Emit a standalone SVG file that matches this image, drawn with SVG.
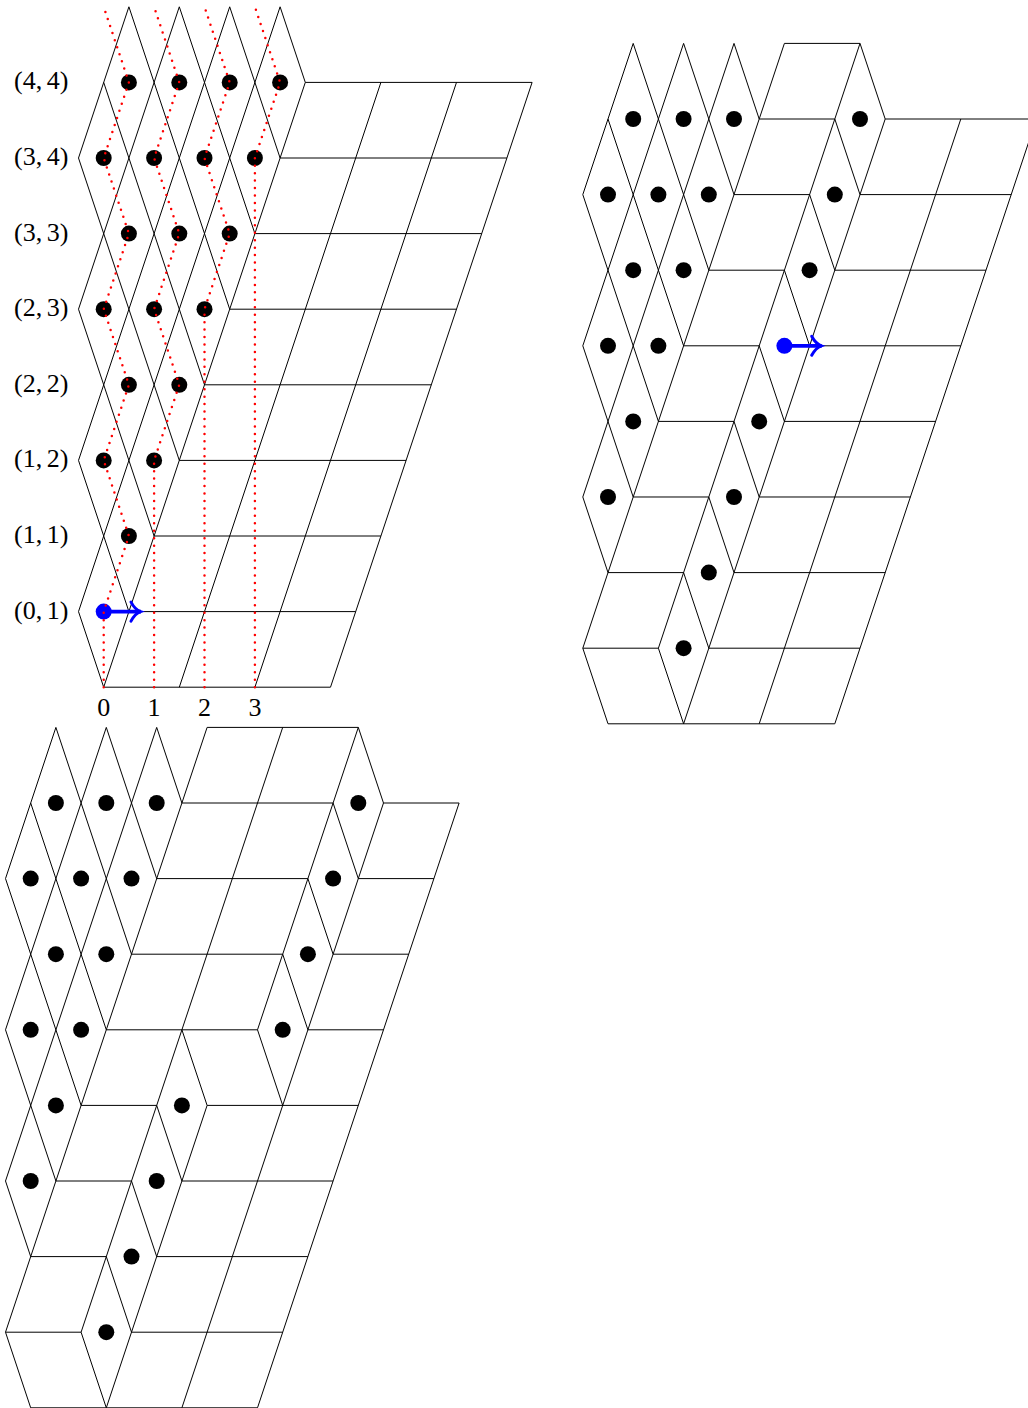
<svg xmlns="http://www.w3.org/2000/svg" width="1028" height="1408" viewBox="0 0 1028 1408">
<style>
.l{fill:none;stroke:#000;stroke-width:1}
#dt{fill:#000}
.red{fill:none;stroke:#f00;stroke-width:2.5;stroke-linecap:round;stroke-dasharray:0 7.45}
.blue{fill:#00f}
.arr{stroke:#00f;stroke-width:3.7;fill:none}
text{font-family:"Liberation Serif","Times New Roman",serif;font-size:26px;fill:#000;word-spacing:-2px}
.c{text-anchor:middle}
</style>
<defs>
<circle id="dt" r="8"/>
<marker id="to" markerUnits="userSpaceOnUse" markerWidth="24" markerHeight="24" refX="11" refY="12" orient="auto" overflow="visible">
<path d="M1 2.5Q5 10 10.5 12Q5 14 1 21.5" fill="none" stroke="#00f" stroke-width="3" stroke-linecap="round"/>
</marker>
</defs>

<g id="tiling-a">
<g transform="translate(103.7 687.2)">
<path class="l" d="M0 0H226.8M25.2-75.6H252M50.4-151.2H277.2M75.6-226.8H302.4M100.8-302.4H327.6M126-378H352.8M151.2-453.6H378M176.4-529.2H403.2M201.6-604.8H428.4
M0 0L201.6-604.8M75.6 0L277.2-604.8M151.2 0L352.8-604.8M226.8 0L428.4-604.8
M-25.2-75.6L176.4-680.4M-25.2-226.8L126-680.4M-25.2-378L75.6-680.4M-25.2-529.2L25.2-680.4
M0 0L-25.2-75.6M25.2-75.6L-25.2-226.8M50.4-151.2L-25.2-378M75.6-226.8L-25.2-529.2M100.8-302.4L0-604.8M126-378L25.2-680.4M151.2-453.6L75.6-680.4M176.4-529.2L126-680.4M201.6-604.8L176.4-680.4"/>
<g id="a-dots">
<use href="#dt" x="25.2" y="-151.2"/>
<use href="#dt" x="0" y="-226.8"/><use href="#dt" x="50.4" y="-226.8"/>
<use href="#dt" x="25.2" y="-302.4"/><use href="#dt" x="75.6" y="-302.4"/>
<use href="#dt" x="0" y="-378"/><use href="#dt" x="50.4" y="-378"/><use href="#dt" x="100.8" y="-378"/>
<use href="#dt" x="25.2" y="-453.6"/><use href="#dt" x="75.6" y="-453.6"/><use href="#dt" x="126" y="-453.6"/>
<use href="#dt" x="0" y="-529.2"/><use href="#dt" x="50.4" y="-529.2"/><use href="#dt" x="100.8" y="-529.2"/><use href="#dt" x="151.2" y="-529.2"/>
<use href="#dt" x="25.2" y="-604.8"/><use href="#dt" x="75.6" y="-604.8"/><use href="#dt" x="126" y="-604.8"/><use href="#dt" x="176.4" y="-604.8"/>
</g>
</g>
<circle class="blue" cx="103.7" cy="611.6" r="8"/>
<line class="arr" x1="103.7" y1="611.6" x2="141" y2="611.6" marker-end="url(#to)"/>
<g id="a-paths">
<path class="red" d="M103.7 687.2V611.6L128.9 536L103.7 460.4L128.9 384.8L103.7 309.2L128.9 233.6L103.7 158L128.9 82.4L103.7 6.8"/>
<path class="red" d="M154.1 687.2V460.4L179.3 384.8L154.1 309.2L179.3 233.6L154.1 158L179.3 82.4L154.1 6.8"/>
<path class="red" d="M204.5 687.2V309.2L229.7 233.6L204.5 158L229.7 82.4L204.5 6.8"/>
<path class="red" d="M254.9 687.2V158L280.1 82.4L254.9 6.8"/>
</g>
<g id="a-labels">
<text x="14" y="89.4">(4, 4)</text>
<text x="14" y="165">(3, 4)</text>
<text x="14" y="240.6">(3, 3)</text>
<text x="14" y="316.2">(2, 3)</text>
<text x="14" y="391.8">(2, 2)</text>
<text x="14" y="467.4">(1, 2)</text>
<text x="14" y="543">(1, 1)</text>
<text x="14" y="618.6">(0, 1)</text>
<text class="c" x="103.7" y="716">0</text>
<text class="c" x="154.1" y="716">1</text>
<text class="c" x="204.5" y="716">2</text>
<text class="c" x="254.9" y="716">3</text>
</g>
</g>

<g id="tiling-b">
<g transform="translate(608 723.8)">
<path class="l" d="M0 0H226.8M-25.2-75.6H50.4M100.8-75.6H252M0-151.2H75.6M126-151.2H277.2M25.2-226.8H100.8M151.2-226.8H302.4M50.4-302.4H126M176.4-302.4H327.6M75.6-378H151.2M201.6-378H352.8M100.8-453.6H176.4M226.8-453.6H378M126-529.2H201.6M252-529.2H403.2M151.2-604.8H226.8M277.2-604.8H428.4M176.4-680.4H252
M-25.2-75.6L176.4-680.4M-25.2-226.8L126-680.4M-25.2-378L75.6-680.4M-25.2-529.2L25.2-680.4
M75.6 0L277.2-604.8M50.4-75.6L252-680.4M151.2 0L352.8-604.8M226.8 0L428.4-604.8
M0 0L-25.2-75.6M0-151.2L-25.2-226.8M25.2-226.8L-25.2-378M50.4-302.4L-25.2-529.2M75.6-378L0-604.8M100.8-453.6L25.2-680.4M126-529.2L75.6-680.4M151.2-604.8L126-680.4
M75.6 0L50.4-75.6M100.8-75.6L75.6-151.2M126-151.2L100.8-226.8M151.2-226.8L126-302.4M176.4-302.4L151.2-378M201.6-378L176.4-453.6M226.8-453.6L201.6-529.2M252-529.2L226.8-604.8M277.2-604.8L252-680.4"/>
<g id="b-dots">
<use href="#dt" x="75.6" y="-75.6"/>
<use href="#dt" x="100.8" y="-151.2"/>
<use href="#dt" x="0" y="-226.8"/><use href="#dt" x="126" y="-226.8"/>
<use href="#dt" x="25.2" y="-302.4"/><use href="#dt" x="151.2" y="-302.4"/>
<use href="#dt" x="0" y="-378"/><use href="#dt" x="50.4" y="-378"/>
<use href="#dt" x="25.2" y="-453.6"/><use href="#dt" x="75.6" y="-453.6"/><use href="#dt" x="201.6" y="-453.6"/>
<use href="#dt" x="0" y="-529.2"/><use href="#dt" x="50.4" y="-529.2"/><use href="#dt" x="100.8" y="-529.2"/><use href="#dt" x="226.8" y="-529.2"/>
<use href="#dt" x="25.2" y="-604.8"/><use href="#dt" x="75.6" y="-604.8"/><use href="#dt" x="126" y="-604.8"/><use href="#dt" x="252" y="-604.8"/>
</g>
</g>
<circle class="blue" cx="784.4" cy="345.8" r="8"/>
<line class="arr" x1="784.4" y1="345.8" x2="821.7" y2="345.8" marker-end="url(#to)"/>
</g>

<g id="tiling-c">
<g transform="translate(30.7 1407.8)">
<path class="l" d="M0 0H226.8M-25.2-75.6H50.4M100.8-75.6H252M0-151.2H75.6M126-151.2H277.2M25.2-226.8H100.8M151.2-226.8H302.4M50.4-302.4H126M176.4-302.4H327.6M75.6-378H226.8M277.2-378H352.8M100.8-453.6H252M302.4-453.6H378M126-529.2H277.2M327.6-529.2H403.2M151.2-604.8H302.4M352.8-604.8H428.4M176.4-680.4H327.6
M-25.2-75.6L176.4-680.4M-25.2-226.8L126-680.4M-25.2-378L75.6-680.4M-25.2-529.2L25.2-680.4
M75.6 0L176.4-302.4M50.4-75.6L252-680.4M151.2 0L352.8-604.8M226.8-378L327.6-680.4M226.8 0L428.4-604.8
M0 0L-25.2-75.6M0-151.2L-25.2-226.8M25.2-226.8L-25.2-378M50.4-302.4L-25.2-529.2M75.6-378L0-604.8M100.8-453.6L25.2-680.4M126-529.2L75.6-680.4M151.2-604.8L126-680.4
M75.6 0L50.4-75.6M100.8-75.6L75.6-151.2M126-151.2L100.8-226.8M151.2-226.8L126-302.4M176.4-302.4L151.2-378
M252-302.4L226.8-378M277.2-378L252-453.6M302.4-453.6L277.2-529.2M327.6-529.2L302.4-604.8M352.8-604.8L327.6-680.4"/>
<g id="c-dots">
<use href="#dt" x="75.6" y="-75.6"/>
<use href="#dt" x="100.8" y="-151.2"/>
<use href="#dt" x="0" y="-226.8"/><use href="#dt" x="126" y="-226.8"/>
<use href="#dt" x="25.2" y="-302.4"/><use href="#dt" x="151.2" y="-302.4"/>
<use href="#dt" x="0" y="-378"/><use href="#dt" x="50.4" y="-378"/><use href="#dt" x="252" y="-378"/>
<use href="#dt" x="25.2" y="-453.6"/><use href="#dt" x="75.6" y="-453.6"/><use href="#dt" x="277.2" y="-453.6"/>
<use href="#dt" x="0" y="-529.2"/><use href="#dt" x="50.4" y="-529.2"/><use href="#dt" x="100.8" y="-529.2"/><use href="#dt" x="302.4" y="-529.2"/>
<use href="#dt" x="25.2" y="-604.8"/><use href="#dt" x="75.6" y="-604.8"/><use href="#dt" x="126" y="-604.8"/><use href="#dt" x="327.6" y="-604.8"/>
</g>
</g>
</g>
</svg>
